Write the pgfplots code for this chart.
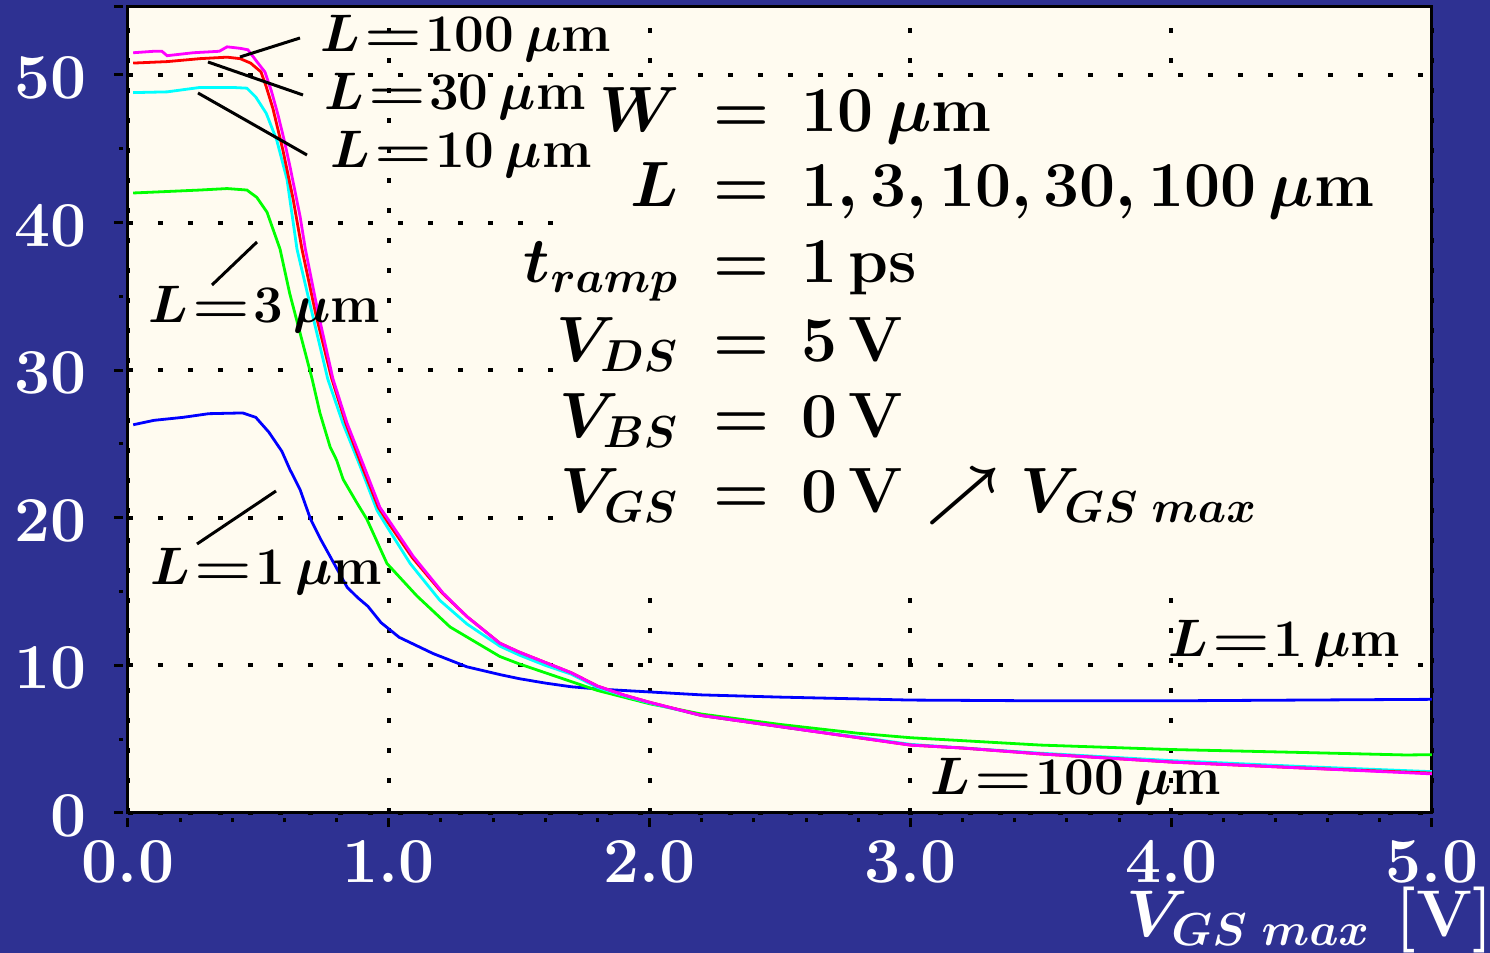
\RequirePackage{fix-cm}
\documentclass[border=0pt]{standalone}
\usepackage{graphicx}
\usepackage{pgfplots}
\pgfplotsset{compat=1.18}

\definecolor{slidebg}{RGB}{46,49,146}
\definecolor{paper}{RGB}{255,251,240}
\definecolor{cL1}{RGB}{0,0,255}
\definecolor{cL3}{RGB}{0,255,0}
\definecolor{cL10}{RGB}{0,255,255}
\definecolor{cL30}{RGB}{255,0,0}
\definecolor{cL100}{RGB}{255,0,255}

% curve label: L = value um, with a long, tight equals sign
\newcommand{\Llab}[1]{$L\mskip1mu\mathord{\scalebox{1.25}[1]{$=$}}\mskip1mu #1\,\mu$m}

\begin{document}
\begin{tikzpicture}
% slide background
\fill[slidebg] (-32pt,-35pt) rectangle (340.5pt,203.25pt);

\begin{axis}[
  scale only axis, width=326pt, height=201.5pt,
  xmin=0, xmax=5, ymin=0, ymax=54.6,
  axis background/.style={fill=paper},
  axis line style={black, line width=0.75pt},
  xtick={0,1,2,3,4,5}, xticklabels={0.0,1.0,2.0,3.0,4.0,5.0},
  ytick={0,10,20,30,40,50}, yticklabels={0,10,20,30,40,50},
  extra y ticks={54.6}, extra y tick labels={},
  extra tick style={grid=none},
  minor x tick num=4, minor y tick num=1,
  tick align=outside, tick pos=left,
  major tick length=2.2pt, minor tick length=1.1pt,
  every tick/.style={black, line width=0.75pt},
  every x tick/.append style={yshift=-1.2pt},
  every y tick/.append style={xshift=-1.2pt},
  grid=major,
  major grid style={black, line width=1pt, dash pattern=on 1.25pt off 6.25pt},
  tick label style={white, font=\fontsize{16}{19}\selectfont\bfseries},
  xticklabel style={inner sep=0pt, anchor=north, yshift=-4.5pt},
  yticklabel style={inner sep=0pt, anchor=east, xshift=-8pt, yshift=-0.75pt},
]
% plain panel behind the parameter list
\fill[paper] (axis cs:1.67,15.45) rectangle (axis cs:4.99,49.7);

% L = 1 um
\addplot[color=cL1, line width=0.7pt] coordinates {
(0.02,26.3) (0.10,26.6) (0.21,26.8) (0.31,27.05) (0.44,27.1) (0.49,26.8)
(0.54,25.8) (0.59,24.5) (0.62,23.3) (0.66,21.9) (0.70,19.9) (0.74,18.5)
(0.79,16.9) (0.84,15.3) (0.88,14.6) (0.92,14.0) (0.97,12.9) (1.04,11.9)
(1.17,10.8) (1.30,9.9) (1.43,9.36) (1.5,9.1) (1.6,8.8) (1.7,8.55) (1.8,8.4)
(2.0,8.2) (2.2,8.0) (2.5,7.85) (3.0,7.65) (3.5,7.6) (4.0,7.6) (4.5,7.65) (5.0,7.7)
};
% L = 3 um
\addplot[color=cL3, line width=0.7pt] coordinates {
(0.02,42.0) (0.15,42.1) (0.276,42.2) (0.38,42.3) (0.456,42.2) (0.494,41.7)
(0.533,40.7) (0.571,38.8) (0.583,38.2) (0.62,35.2) (0.66,32.5) (0.706,29.4)
(0.736,27.1) (0.775,24.8) (0.80,23.9) (0.825,22.6) (0.878,21.0) (0.916,19.9)
(0.993,16.9) (1.108,14.7) (1.235,12.6) (1.426,10.6) (1.5,10.1) (1.6,9.5)
(1.7,8.9) (1.8,8.3) (2.0,7.4) (2.2,6.7) (2.5,6.0) (2.8,5.4) (3.0,5.1)
(3.5,4.6) (4.0,4.3) (4.5,4.1) (4.9,3.93) (5.0,3.95)
};
% L = 10 um
\addplot[color=cL10, line width=0.7pt] coordinates {
(0.02,48.8) (0.15,48.85) (0.276,49.15) (0.40,49.15) (0.456,49.1) (0.49,48.5)
(0.53,47.4) (0.57,45.6) (0.61,42.9) (0.648,38.2) (0.70,34.3) (0.766,29.4)
(0.824,26.4) (0.89,23.5) (0.955,20.5) (0.993,19.4) (1.082,16.9) (1.196,14.4)
(1.30,12.8) (1.426,11.3) (1.5,10.7) (1.6,10.0) (1.7,9.4) (1.8,8.5) (1.9,7.95)
(2.0,7.45) (2.2,6.6) (2.4,6.1) (2.6,5.6) (2.8,5.15) (3.0,4.65) (3.5,4.05)
(4.0,3.55) (4.5,3.15) (5.0,2.8)
};
% L = 30 um
\addplot[color=cL30, line width=0.7pt] coordinates {
(0.02,50.8) (0.15,50.9) (0.276,51.1) (0.38,51.2) (0.43,51.1) (0.47,50.8)
(0.51,50.2) (0.53,49.2) (0.556,47.7) (0.594,44.9) (0.633,41.6) (0.667,38.2)
(0.72,33.8) (0.78,29.5) (0.835,26.4) (0.895,23.6) (0.96,20.7) (1.0,19.6)
(1.09,17.3) (1.205,14.9) (1.30,13.3) (1.426,11.5) (1.5,10.9) (1.6,10.2)
(1.7,9.5) (1.8,8.6) (1.9,8.0) (2.0,7.5) (2.2,6.6) (2.4,6.1) (2.6,5.6)
(2.8,5.1) (3.0,4.6) (3.2,4.4) (3.5,4.0) (4.0,3.45) (4.5,3.05) (5.0,2.7)
};
% L = 100 um
\addplot[color=cL100, line width=0.7pt] coordinates {
(0.02,51.5) (0.10,51.6) (0.13,51.6) (0.15,51.3) (0.25,51.5) (0.35,51.6)
(0.38,51.9) (0.43,51.8) (0.46,51.7) (0.494,50.9) (0.525,50.2) (0.55,48.9)
(0.575,47.3) (0.60,45.5) (0.621,43.8) (0.66,40.4) (0.68,38.2) (0.73,33.8)
(0.786,29.4) (0.84,26.4) (0.90,23.7) (0.966,20.7) (1.005,19.7) (1.093,17.4)
(1.208,14.9) (1.30,13.3) (1.426,11.5) (1.5,10.9) (1.6,10.2) (1.7,9.5)
(1.8,8.6) (1.9,8.0) (2.0,7.5) (2.2,6.6) (2.4,6.1) (2.6,5.6) (2.8,5.1)
(3.0,4.6) (3.2,4.4) (3.5,4.0) (4.0,3.45) (4.5,3.05) (5.0,2.65)
};
\end{axis}

% leader lines to the curve labels
\begin{scope}[line width=0.75pt]
\draw (28pt,189pt) -- (43pt,193.75pt);
\draw (20pt,187.75pt) -- (43.75pt,179.5pt);
\draw (17.5pt,180pt) -- (44.75pt,164.5pt);
\draw (21pt,132pt) -- (32.25pt,142.75pt);
\draw (17.25pt,67.25pt) -- (37pt,80.5pt);
\end{scope}

% curve labels
\begin{scope}[every node/.style={anchor=base west, inner sep=0pt,
    font=\fontsize{13.2}{15}\selectfont\bfseries\boldmath}]
\node at (48pt,190.25pt) {\Llab{100}};
\node at (49pt,175.75pt) {\Llab{30}};
\node at (50.5pt,161.25pt) {\Llab{10}};
\node at (5pt,122.5pt) {\Llab{3}};
\node at (5.5pt,57pt) {\Llab{1}};
\node at (260pt,39pt) {\Llab{1}};
\node at (200.5pt,4.5pt) {\Llab{100}};
\end{scope}

% simulation parameters
\begin{scope}[every node/.style={inner sep=0pt,
    font=\fontsize{16}{19}\selectfont\bfseries\boldmath}]
\node[anchor=base east] at (138pt,170.25pt) {$W$};
\node[anchor=base] at (153.25pt,170.25pt) {$=$};
\node[anchor=base west] at (168.25pt,170.25pt) {$10\,\mu$m};
\node[anchor=base east] at (138pt,151.5pt) {$L$};
\node[anchor=base] at (153.25pt,151.5pt) {$=$};
\node[anchor=base west] at (168.25pt,151.5pt) {$1,3,10,30,100\,\mu$m};
\node[anchor=base east] at (138pt,132.5pt) {$t_{ramp}$};
\node[anchor=base] at (153.25pt,132.5pt) {$=$};
\node[anchor=base west] at (168.25pt,132.5pt) {1\,ps};
\node[anchor=base east] at (138pt,112.75pt) {$V_{DS}$};
\node[anchor=base] at (153.25pt,112.75pt) {$=$};
\node[anchor=base west] at (168.25pt,112.75pt) {5\,V};
\node[anchor=base east] at (138pt,93.75pt) {$V_{BS}$};
\node[anchor=base] at (153.25pt,93.75pt) {$=$};
\node[anchor=base west] at (168.25pt,93.75pt) {0\,V};
\node[anchor=base east] at (138pt,75pt) {$V_{GS}$};
\node[anchor=base] at (153.25pt,75pt) {$=$};
\node[anchor=base west] at (168.25pt,75pt) {0\,V $\nearrow V_{GS\;max}$};
\end{scope}

% x axis title
\node[anchor=base east, inner sep=0pt, text=white,
  font=\fontsize{16.5}{19}\selectfont\bfseries\boldmath]
  at (341.5pt,-30.75pt) {$V_{GS\;max}$ [V]};

\pgfresetboundingbox
\useasboundingbox (-32pt,-35pt) rectangle (340.5pt,203.25pt);
\end{tikzpicture}
\end{document}
